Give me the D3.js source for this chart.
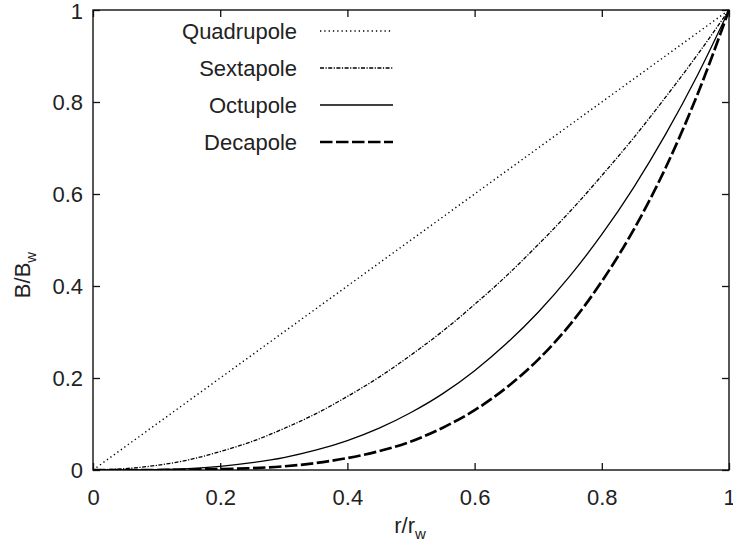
<!DOCTYPE html>
<html>
<head>
<meta charset="utf-8">
<script src="https://cdn.jsdelivr.net/npm/d3@7"></script>
<style>
  html, body { margin: 0; padding: 0; background: #fff; }
  svg { display: block; }
  text { font-family: "Liberation Sans", Arial, Helvetica, sans-serif; fill: #222; }
</style>
</head>
<body>
<svg id="chart" width="733" height="544"></svg>
<script>
// ---- data ----
const rValues = [0, 0.05, 0.1, 0.15, 0.2, 0.25, 0.3, 0.35, 0.4, 0.45, 0.5,
                 0.55, 0.6, 0.65, 0.7, 0.75, 0.8, 0.85, 0.9, 0.95, 1];
const quadrupole = [0, 0.05, 0.1, 0.15, 0.2, 0.25, 0.3, 0.35, 0.4, 0.45, 0.5,
                    0.55, 0.6, 0.65, 0.7, 0.75, 0.8, 0.85, 0.9, 0.95, 1];
const sextapole = [0, 0.003, 0.01, 0.022, 0.04, 0.062, 0.09, 0.122, 0.16, 0.202, 0.25,
                   0.302, 0.36, 0.422, 0.49, 0.562, 0.64, 0.722, 0.81, 0.902, 1];
const octupole = [0, 0, 0.001, 0.003, 0.008, 0.016, 0.027, 0.043, 0.064, 0.091, 0.125,
                  0.166, 0.216, 0.275, 0.343, 0.422, 0.512, 0.614, 0.729, 0.857, 1];
const decapole = [0, 0, 0, 0.001, 0.002, 0.004, 0.008, 0.015, 0.026, 0.041, 0.062,
                  0.092, 0.13, 0.179, 0.24, 0.316, 0.41, 0.522, 0.656, 0.815, 1];
const seriesNames = ["Quadrupole", "Sextapole", "Octupole", "Decapole"];
const xTicks = [0, 0.2, 0.4, 0.6, 0.8, 1];
const yTicks = [0, 0.2, 0.4, 0.6, 0.8, 1];

// ---- styles ----
const styles = {
  Quadrupole: { width: 1.4, dash: "1.3,3" },
  Sextapole:  { width: 1.3, dash: "4,1.5,1.2,1.5" },
  Octupole:   { width: 1.3, dash: null },
  Decapole:   { width: 2.7, dash: "12.5,3.5" }
};
const seriesData = {
  Quadrupole: quadrupole, Sextapole: sextapole, Octupole: octupole, Decapole: decapole
};

const svg = d3.select("#chart");
const L = 93, R = 729, T = 10, B = 470;
const x = d3.scaleLinear().domain([0, 1]).range([L, R]);
const y = d3.scaleLinear().domain([0, 1]).range([B, T]);

const fmt = d => String(d);
const tickLen = 7;
const FS = 22;

// frame
svg.append("rect").attr("x", L).attr("y", T).attr("width", R - L).attr("height", B - T)
  .attr("fill", "none").attr("stroke", "#111").attr("stroke-width", 1.4);

// axes via d3 (inward ticks, mirrored)
const gxb = svg.append("g").attr("transform", `translate(0,${B})`)
  .call(d3.axisBottom(x).tickValues(xTicks).tickFormat(fmt).tickSizeInner(-tickLen).tickSizeOuter(0).tickPadding(19));
const gxt = svg.append("g").attr("transform", `translate(0,${T})`)
  .call(d3.axisTop(x).tickValues(xTicks).tickFormat("").tickSizeInner(-tickLen).tickSizeOuter(0));
const gyl = svg.append("g").attr("transform", `translate(${L},0)`)
  .call(d3.axisLeft(y).tickValues(yTicks).tickFormat(fmt).tickSizeInner(-tickLen).tickSizeOuter(0).tickPadding(10));
const gyr = svg.append("g").attr("transform", `translate(${R},0)`)
  .call(d3.axisRight(y).tickValues(yTicks).tickFormat("").tickSizeInner(-tickLen).tickSizeOuter(0));

[gxb, gxt, gyl, gyr].forEach(g => {
  g.select(".domain").remove();
  g.selectAll(".tick line").attr("stroke", "#111").attr("stroke-width", 1.3);
  g.selectAll(".tick text").attr("font-size", FS).attr("fill", "#222")
    .attr("font-family", "'Liberation Sans', Arial, sans-serif");
});
// keep the top "1" label inside the picture
gyl.selectAll(".tick text").filter(d => d === 1).attr("dy", "0.40em");

// axis labels
const xl = svg.append("text").attr("x", 410).attr("y", 533).attr("text-anchor", "middle").attr("font-size", FS);
xl.append("tspan").text("r/r");
xl.append("tspan").attr("font-size", 15).attr("dy", 6).text("w");

const yl = svg.append("text").attr("transform", "translate(30,275) rotate(-90)")
  .attr("text-anchor", "middle").attr("font-size", FS);
yl.append("tspan").text("B/B");
yl.append("tspan").attr("font-size", 15).attr("dy", 6).text("w");

// curves
const line = d3.line().x(d => x(d[0])).y(d => y(d[1])).curve(d3.curveMonotoneX);
svg.append("clipPath").attr("id", "plotclip").append("rect")
  .attr("x", L).attr("y", T - 2).attr("width", R - L + 1).attr("height", B - T + 2);

seriesNames.forEach(name => {
  const vals = seriesData[name];
  const pts = rValues.map((r, i) => [r, vals[i]]);
  const st = styles[name];
  svg.append("path").datum(pts).attr("d", line)
    .attr("fill", "none").attr("stroke", "#000")
    .attr("stroke-width", st.width)
    .attr("stroke-dasharray", st.dash)
    .attr("clip-path", "url(#plotclip)");
});

// legend
const legY = [31, 68, 105, 142];
const legText = 297, legX1 = 320, legX2 = 393;
seriesNames.forEach((name, i) => {
  const st = styles[name];
  svg.append("text").attr("x", legText).attr("y", legY[i]).attr("dy", "0.36em")
    .attr("text-anchor", "end").attr("font-size", FS).text(name);
  svg.append("line").attr("x1", legX1).attr("x2", legX2).attr("y1", legY[i]).attr("y2", legY[i])
    .attr("stroke", "#000").attr("stroke-width", st.width)
    .attr("stroke-dasharray", st.dash);
});
</script>
</body>
</html>
